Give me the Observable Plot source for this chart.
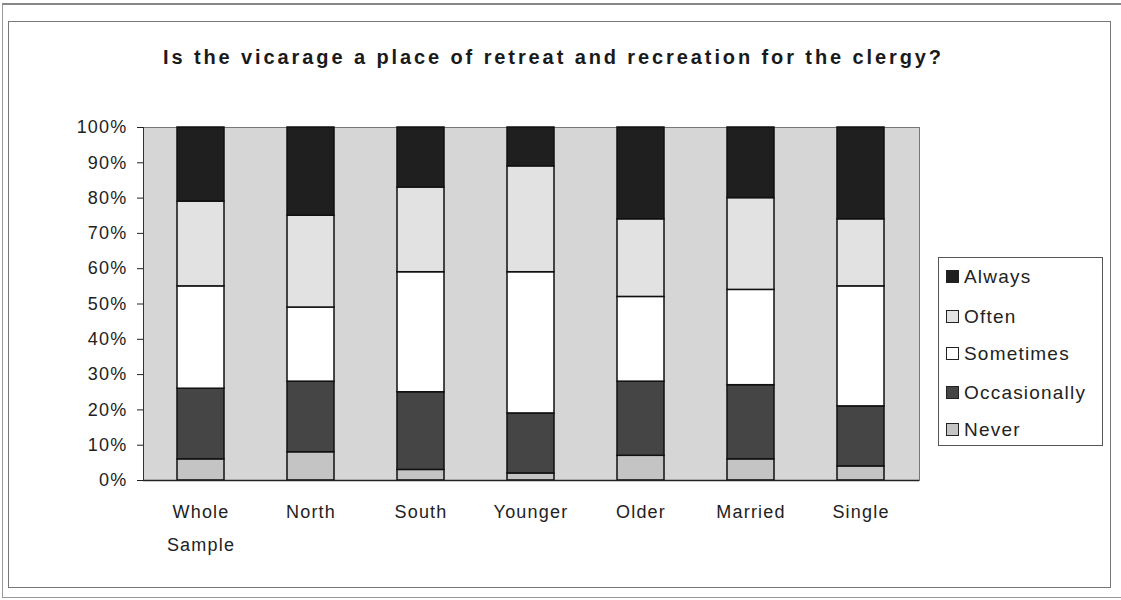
<!DOCTYPE html>
<html>
<head>
<meta charset="utf-8">
<script src="https://cdn.jsdelivr.net/npm/d3@7"></script>
<script src="https://cdn.jsdelivr.net/npm/@observablehq/plot@0.6"></script>
<style>
  html, body { margin: 0; padding: 0; background: #fff; }
  #wrap { position: relative; width: 1121px; height: 600px; overflow: hidden; font-family: "Liberation Sans", Arial, sans-serif; }
  #title { position: absolute; left: 163px; top: 46px; white-space: nowrap; font-weight: bold; font-size: 20px; letter-spacing: 2.9px; color: #1a1a1a; }
  #chart { position: absolute; left: 0; top: 100px; }
  #legend { position: absolute; left: 938px; top: 257px; width: 165px; height: 189px; border: 1px solid #555; box-sizing: border-box; background: #fff; }
  .item { position: absolute; left: 7px; font-size: 19px; letter-spacing: 1.2px; color: #222; height: 22px; line-height: 22px; white-space: nowrap; }
  .sw { display: inline-block; width: 11px; height: 11px; border: 1px solid #222; vertical-align: middle; margin-right: 5px; margin-top: -3px; }
  .frameA { position: absolute; left: 8px; top: 21px; width: 1103px; height: 567px; border: 1px solid #777; box-sizing: border-box; }
  .frameB { position: absolute; left: 2px; top: 3px; width: 1119px; height: 595px; border-left: 1px solid #999; border-top: 2px solid #888; border-bottom: 1px solid #999; box-sizing: border-box; }
</style>
</head>
<body>
<div id="wrap">
  <div class="frameB"></div>
  <div class="frameA"></div>
  <div id="title">Is the vicarage a place of retreat and recreation for the clergy?</div>
  <div id="chart"></div>
  <div id="legend"></div>
</div>
<script>
const categories = ["Whole\nSample", "North", "South", "Younger", "Older", "Married", "Single"];
const responses = ["Never", "Occasionally", "Sometimes", "Often", "Always"];
const never        = [6, 8, 3, 2, 7, 6, 4];
const occasionally = [20, 20, 22, 17, 21, 21, 17];
const sometimes    = [29, 21, 34, 40, 24, 27, 34];
const often        = [24, 26, 24, 30, 22, 26, 19];
const always       = [21, 25, 17, 11, 26, 20, 26];
const yTicks = [0, 0.1, 0.2, 0.3, 0.4, 0.5, 0.6, 0.7, 0.8, 0.9, 1];
const fills = ["#c4c4c4", "#454545", "#ffffff", "#e2e2e2", "#1f1f1f"];

const series = [never, occasionally, sometimes, often, always];
const rows = [];
categories.forEach((c, i) => {
  responses.forEach((r, j) => rows.push({category: c, response: r, value: series[j][i]}));
});

const chart = Plot.plot({
  width: 1121,
  height: 500,
  marginLeft: 143,
  marginRight: 202,
  marginTop: 27,
  marginBottom: 120,
  style: {fontFamily: "'Liberation Sans', Arial, sans-serif", fontSize: "18px", color: "#222", background: "transparent", letterSpacing: "1.2px"},
  x: {domain: categories, paddingInner: 0.57, paddingOuter: 0.285, label: null},
  y: {domain: [0, 1], label: null},
  color: {domain: responses, range: fills},
  marks: [
    Plot.frame({fill: "#d6d6d6", stroke: "#777", strokeWidth: 1}),
    Plot.barY(rows, Plot.stackY({offset: "normalize", order: responses}, {
      x: "category", y: "value", fill: "response", stroke: "#111", strokeWidth: 1.5
    })),
    Plot.axisY({ticks: yTicks, tickFormat: d3.format(".0%"), tickSize: 6, tickPadding: 10, fontSize: 18, fill: "#222"}),
    Plot.axisX({tickSize: 0, tickPadding: 14, fontSize: 18, fill: "#222", lineHeight: 1.83}),
    Plot.frame({anchor: "left", stroke: "#333"}),
    Plot.ruleY([0], {stroke: "#222", strokeWidth: 1.5})
  ]
});
document.getElementById("chart").appendChild(chart);

const legend = document.getElementById("legend");
const legendOrder = ["Always", "Often", "Sometimes", "Occasionally", "Never"];
const legendTops = [8, 48, 85, 124, 161];
legendOrder.forEach((r, k) => {
  const d = document.createElement("div");
  d.className = "item";
  d.style.top = legendTops[k] + "px";
  const sw = document.createElement("span");
  sw.className = "sw";
  sw.style.background = fills[responses.indexOf(r)];
  d.appendChild(sw);
  d.appendChild(document.createTextNode(r));
  legend.appendChild(d);
});
</script>
</body>
</html>
